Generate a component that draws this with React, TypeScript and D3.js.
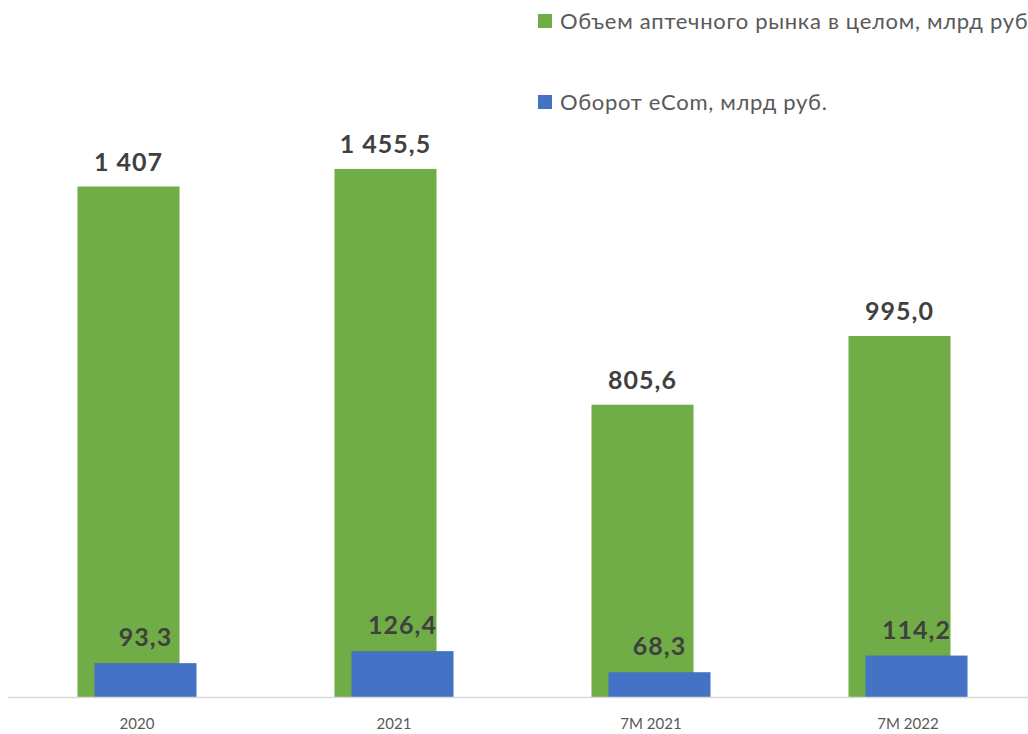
import React from "react";
import * as d3 from "d3";

const categories = ["2020", "2021", "7M 2021", "7M 2022"];
const marketValues = [1407, 1455.5, 805.6, 995.0];
const ecomValues = [93.3, 126.4, 68.3, 114.2];
const marketLabels = ["1 407", "1 455,5", "805,6", "995,0"];
const ecomLabels = ["93,3", "126,4", "68,3", "114,2"];
const legendItems = [
  { name: "Объем аптечного рынка в целом, млрд руб.", color: "#70AD47" },
  { name: "Оборот eCom, млрд руб.", color: "#4472C4" },
];

const W = 1028;
const H = 734;
const FONT = "Lato, 'Open Sans', sans-serif";

export default function App() {
  const x = d3.scaleBand<string>().domain(categories).range([8.5, 1036.5]).padding(0);
  const y = d3.scaleLinear().domain([0, 1600]).range([697, 116.5]);
  const step = x.step();
  const barW = step * 0.397;
  const shift = 8.5;

  return (
    <svg
      width={W}
      height={H}
      style={{ position: "absolute", left: 0, top: 0, background: "#fff" }}
      fontFamily={FONT}
    >
      {categories.map((c, i) => {
        const cx = (x(c) as number) + step / 2;
        const gx = cx - barW / 2 - shift;
        const bx = cx - barW / 2 + shift;
        return (
          <g key={c}>
            <rect x={gx} y={y(marketValues[i])} width={barW} height={y(0) - y(marketValues[i])} fill="#70AD47" />
            <rect x={bx} y={y(ecomValues[i])} width={barW} height={y(0) - y(ecomValues[i])} fill="#4472C4" />
            <text
              x={gx + barW / 2}
              y={y(marketValues[i]) - 16}
              textAnchor="middle"
              fontSize={25}
              letterSpacing={1}
              fontWeight="bold"
              fill="#404040"
            >
              {marketLabels[i]}
            </text>
            <text
              x={bx + barW / 2}
              y={y(ecomValues[i]) - 17}
              textAnchor="middle"
              fontSize={25}
              letterSpacing={1}
              fontWeight="bold"
              fill="#404040"
            >
              {ecomLabels[i]}
            </text>
            <text x={cx} y={729} textAnchor="middle" fontSize={15} fill="#595959">
              {c}
            </text>
          </g>
        );
      })}
      <line x1={8} x2={W} y1={697.5} y2={697.5} stroke="#D9D9D9" strokeWidth={1.5} />
      {legendItems.map((d, i) => (
        <g key={d.name} transform={`translate(538, ${i === 0 ? 14 : 95})`}>
          <rect x={0} y={0} width={14} height={14} fill={d.color} />
          <text x={22} y={15} fontSize={22} letterSpacing={0.7} fill="#595959">
            {d.name}
          </text>
        </g>
      ))}
    </svg>
  );
}
